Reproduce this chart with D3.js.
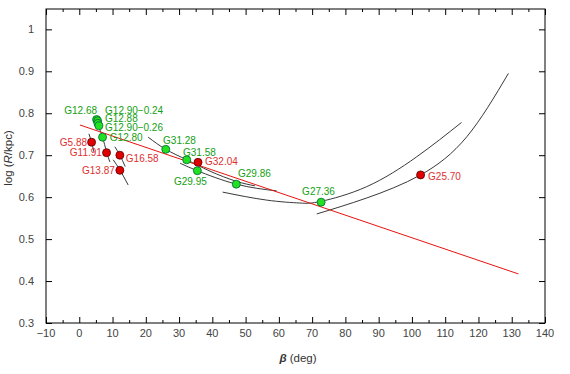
<!DOCTYPE html>
<html>
<head>
<meta charset="utf-8">
<script src="https://cdn.jsdelivr.net/npm/d3@7"></script>
<style>
  body { margin: 0; background: #fff; }
  svg { display: block; font-family: "Liberation Sans", Arial, sans-serif; }
  .tick-label { font-size: 11px; fill: #444; }
  .title { font-size: 11.5px; fill: #333; }
  .lbl { font-size: 10px; }
</style>
</head>
<body>
<div id="chart"></div>
<script>
// sources: name, beta (deg), log(R/kpc)
const redNames = ["G5.88", "G11.91", "G16.58", "G13.87", "G32.04", "G25.70"];
const redBeta = [3.7, 8.2, 12.2, 12.2, 35.7, 102.6];
const redLogR = [0.731, 0.706, 0.700, 0.664, 0.683, 0.653];

const greenNames = ["G12.68", "G12.90\u22120.24", "G12.88", "G12.90\u22120.26", "G12.80",
  "G31.28", "G31.58", "G29.95", "G29.86", "G27.36"];
const greenBeta = [5.2, 5.5, 5.6, 5.9, 7.0, 26.0, 32.3, 35.5, 47.2, 72.7];
const greenLogR = [0.785, 0.782, 0.776, 0.770, 0.743, 0.714, 0.689, 0.663, 0.631, 0.588];

// linear fit (red line) end points
const fitBeta = [0.2, 132];
const fitLogR = [0.772, 0.417];

// arcs through the sources [beta, logR]
const arcs = [
  [[2.9, 0.751], [3.7, 0.731], [4.4, 0.708]],
  [[4.7, 0.789], [5.9, 0.766], [7.0, 0.743], [8.2, 0.708], [9.2, 0.684]],
  [[10.7, 0.720], [12.2, 0.700], [13.8, 0.673]],
  [[10.2, 0.689], [12.2, 0.665], [14.7, 0.629]],
  [[20.7, 0.743], [26.0, 0.714], [32.3, 0.689], [39.3, 0.662], [47.1, 0.638], [52.8, 0.627]],
  [[30.3, 0.681], [35.5, 0.663], [47.2, 0.631], [59.3, 0.615]],
  [[43.1, 0.612], [56.3, 0.593], [66.3, 0.586], [72.7, 0.590], [86.4, 0.625], [101.4, 0.696], [114.9, 0.778]],
  [[71.4, 0.560], [86.4, 0.598], [102.6, 0.653], [116.5, 0.744], [129.0, 0.895]]
];

const xTicks = d3.range(-10, 141, 10);
const xMinor = d3.range(-5, 140, 10);
const yTicks = [0.3, 0.4, 0.5, 0.6, 0.7, 0.8, 0.9, 1];

// label placement (offset from the dot, px)
const labelPos = {
  "G12.68": [0.5, -5.5, "end"],
  "G12.90\u22120.24": [7.5, -7, "start"],
  "G12.88": [7, -1, "start"],
  "G12.90\u22120.26": [6, 5.3, "start"],
  "G12.80": [7.3, 3.7, "start"],
  "G5.88": [-4.5, 4.2, "end"],
  "G11.91": [-4.7, 3.8, "end"],
  "G16.58": [6, 7, "start"],
  "G13.87": [-5, 3.7, "end"],
  "G31.28": [-2.7, -5.3, "start"],
  "G31.58": [-3.7, -4, "start"],
  "G32.04": [7, 2.7, "start"],
  "G29.95": [-7, 14, "middle"],
  "G29.86": [1.7, -7, "start"],
  "G27.36": [-19, -7, "start"],
  "G25.70": [7.5, 5, "start"]
};

const width = 570, height = 374;
const margin = { top: 9, right: 25, bottom: 51, left: 46 };

const svg = d3.select("#chart").append("svg")
  .attr("width", width)
  .attr("height", height);

const x = d3.scaleLinear().domain([-10, 140]).range([margin.left, width - margin.right]);
const y = d3.scaleLinear().domain([0.3, 1.0485]).range([height - margin.bottom, margin.top]);

const x0 = x.range()[0], x1 = x.range()[1];
const y0 = y.range()[0], y1 = y.range()[1];

// axes with inward ticks on all four sides
const axisX = (g, ticks, len) => g.call(d3.axisBottom(x).tickValues(ticks).tickSize(-len).tickFormat(""));
svg.append("g").attr("transform", `translate(0,${y0})`).call(g => axisX(g, xTicks, 6));
svg.append("g").attr("transform", `translate(0,${y0})`).call(g => axisX(g, xMinor, 3));
svg.append("g").attr("transform", `translate(0,${y1})`)
  .call(d3.axisTop(x).tickValues(xTicks).tickSize(-6).tickFormat(""));
svg.append("g").attr("transform", `translate(0,${y1})`)
  .call(d3.axisTop(x).tickValues(xMinor).tickSize(-3).tickFormat(""));
svg.append("g").attr("transform", `translate(${x0},0)`)
  .call(d3.axisLeft(y).tickValues(yTicks).tickSize(-6).tickFormat(""));
svg.append("g").attr("transform", `translate(${x1},0)`)
  .call(d3.axisRight(y).tickValues(yTicks).tickSize(-6).tickFormat(""));
svg.selectAll(".domain").remove();
svg.selectAll(".tick line").attr("stroke", "#000");

svg.append("rect")
  .attr("x", x0).attr("y", y1)
  .attr("width", x1 - x0).attr("height", y0 - y1)
  .attr("fill", "none").attr("stroke", "#000").attr("stroke-width", 1);

svg.append("g").selectAll("text").data(xTicks).join("text")
  .attr("class", "tick-label")
  .attr("x", d => x(d)).attr("y", 337)
  .attr("text-anchor", "middle")
  .text(d => d < 0 ? "\u2212" + Math.abs(d) : d);

svg.append("g").selectAll("text").data(yTicks).join("text")
  .attr("class", "tick-label")
  .attr("x", 34).attr("y", d => y(d) + 4)
  .attr("text-anchor", "end")
  .text(d => d);

const xt = svg.append("text").attr("class", "title")
  .attr("x", 298).attr("y", 362).attr("text-anchor", "middle");
xt.append("tspan").attr("font-style", "italic").attr("font-weight", "bold").text("\u03b2");
xt.append("tspan").text("  (deg)");

const yt = svg.append("text").attr("class", "title")
  .attr("transform", "translate(12,158) rotate(-90)").attr("text-anchor", "middle");
yt.append("tspan").text("log (");
yt.append("tspan").attr("font-style", "italic").text("R");
yt.append("tspan").text("/kpc)");

svg.append("clipPath").attr("id", "plot-cp").append("rect")
  .attr("x", x0).attr("y", y1).attr("width", x1 - x0).attr("height", y0 - y1);

const plot = svg.append("g").attr("clip-path", "url(#plot-cp)");

const line = d3.line().x(d => x(d[0])).y(d => y(d[1])).curve(d3.curveNatural);

plot.selectAll(".arc").data(arcs).join("path")
  .attr("class", "arc")
  .attr("d", line)
  .attr("fill", "none")
  .attr("stroke", "#222")
  .attr("stroke-width", 0.9);

plot.append("path")
  .attr("d", d3.line()(fitBeta.map((b, i) => [x(b), y(fitLogR[i])])))
  .attr("stroke", "#e8130f")
  .attr("stroke-width", 1)
  .attr("fill", "none");

const red = redNames.map((n, i) => ({ name: n, b: redBeta[i], r: redLogR[i] }));
const green = greenNames.map((n, i) => ({ name: n, b: greenBeta[i], r: greenLogR[i] }));

const drawSet = (data, fill, stroke, textColor) => {
  plot.append("g").selectAll("circle").data(data).join("circle")
    .attr("cx", d => x(d.b)).attr("cy", d => y(d.r))
    .attr("r", 4)
    .attr("fill", fill)
    .attr("stroke", stroke)
    .attr("stroke-width", 0.8);
  plot.append("g").selectAll("text").data(data).join("text")
    .attr("class", "lbl")
    .attr("x", d => x(d.b) + labelPos[d.name][0])
    .attr("y", d => y(d.r) + labelPos[d.name][1])
    .attr("text-anchor", d => labelPos[d.name][2])
    .attr("fill", textColor)
    .text(d => d.name);
};

drawSet(red, "#e00000", "#500", "#e03030");
drawSet(green, "#22e022", "#063", "#13a013");
</script>
</body>
</html>
